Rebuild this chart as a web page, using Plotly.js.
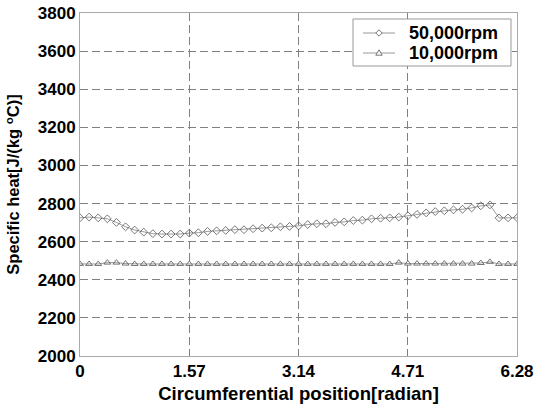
<!DOCTYPE html>
<html>
<head>
<meta charset="utf-8">
<script src="https://cdn.plot.ly/plotly-3.0.1.min.js"></script>
<style>html,body{margin:0;padding:0;background:#fff;}#chart{width:537px;height:407px;}</style>
</head>
<body>
<div id="chart"></div>
<script>
// 49 circumferential positions, step pi/24, from 0 to 2*pi
var positionIndex = [0,1,2,3,4,5,6,7,8,9,10,11,12,13,14,15,16,17,18,19,20,21,22,23,24,25,26,27,28,29,30,31,32,33,34,35,36,37,38,39,40,41,42,43,44,45,46,47,48];
var heat50k = [2725,2729,2725,2720,2701,2678,2661,2650,2642,2640,2640,2640,2645,2647,2654,2657,2659,2663,2663,2668,2671,2673,2678,2680,2683,2690,2694,2694,2701,2704,2711,2713,2720,2723,2725,2729,2736,2743,2751,2758,2762,2767,2770,2777,2788,2793,2725,2725,2725];
var heat10k = [2483,2483,2483,2490,2490,2485,2483,2483,2483,2483,2483,2483,2483,2483,2483,2483,2483,2483,2483,2483,2483,2483,2483,2483,2483,2483,2483,2483,2483,2483,2483,2483,2483,2483,2483,2490,2485,2485,2485,2485,2485,2485,2485,2485,2488,2494,2483,2483,2483];
var seriesNames = ["50,000rpm", "10,000rpm"];
var xTickVals = [0, 1.57, 3.14, 4.71, 6.28];
var xTickText = ["0", "1.57", "3.14", "4.71", "6.28"];
var yTickVals = [2000,2200,2400,2600,2800,3000,3200,3400,3600,3800];

var xPos = positionIndex.map(function(i){ return i * Math.PI / 24; });

var fam = "Liberation Sans, Arial, sans-serif";
var bold = function(sz){ return {family: fam, size: sz, color: "#000", weight: "bold"}; };

var markerColor = "#555";
var traces = [
  {x: xPos, y: heat50k, name: seriesNames[0], mode: "lines+markers", type: "scatter",
   line: {color: "#555", width: 0.6},
   marker: {symbol: "diamond-open", size: 6, color: markerColor, line: {width: 0.8}}},
  {x: xPos, y: heat10k, name: seriesNames[1], mode: "lines+markers", type: "scatter",
   line: {color: "#555", width: 0.6},
   marker: {symbol: "triangle-up-open", size: 6, color: markerColor, line: {width: 0.8}}}
];

// custom legend (paper coordinates, plot area 80..517 x 13..356 px)
var W = 437, H = 343;
function px(x){ return (x - 80) / W; }
function py(y){ return (356 - y) / H; }
var rowY = [33, 53];
var sampleX0 = 363, sampleX1 = 395, markX = 379, textX = 407;
var shapes = [{type: "rect", xref: "paper", yref: "paper", x0: px(353), x1: px(511), y0: py(66), y1: py(19),
  fillcolor: "#fff", line: {color: "#999", width: 1}, layer: "above"}];
var annotations = [];
rowY.forEach(function(ry, i){
  shapes.push({type: "line", xref: "paper", yref: "paper", x0: px(sampleX0), x1: px(sampleX1), y0: py(ry), y1: py(ry),
    line: {color: "#555", width: 0.6}, layer: "above"});
  var path;
  if (i === 0) {
    path = "M" + px(markX - 3.2) + "," + py(ry) + " L" + px(markX) + "," + py(ry - 3.2) + " L" + px(markX + 3.2) + "," + py(ry) + " L" + px(markX) + "," + py(ry + 3.2) + " Z";
  } else {
    path = "M" + px(markX - 3.2) + "," + py(ry + 2.2) + " L" + px(markX) + "," + py(ry - 3.2) + " L" + px(markX + 3.2) + "," + py(ry + 2.2) + " Z";
  }
  shapes.push({type: "path", xref: "paper", yref: "paper", path: path,
    fillcolor: "#fff", line: {color: markerColor, width: 0.8}, layer: "above"});
  annotations.push({xref: "paper", yref: "paper", x: px(textX), y: py(ry), xanchor: "left", yanchor: "middle",
    text: seriesNames[i], showarrow: false, font: bold(18)});
});

var layout = {
  width: 537, height: 407,
  margin: {l: 80, r: 20, t: 13, b: 51},
  paper_bgcolor: "#fff", plot_bgcolor: "#fff",
  showlegend: false,
  font: {family: fam, size: 17, color: "#000"},
  shapes: shapes,
  annotations: annotations,
  xaxis: {range: [0, 6.28], tickvals: xTickVals, ticktext: xTickText,
    showgrid: true, gridcolor: "#808080", gridwidth: 1, griddash: "8px,4px",
    showline: true, mirror: true, linecolor: "#aaa", linewidth: 1,
    zeroline: false, ticks: "",
    tickfont: bold(17),
    title: {text: "Circumferential position[radian]", standoff: 6, font: bold(18.5)}},
  yaxis: {range: [2000, 3800], tickvals: yTickVals,
    showgrid: true, gridcolor: "#808080", gridwidth: 1, griddash: "8px,4px",
    showline: true, mirror: true, linecolor: "#aaa", linewidth: 1,
    zeroline: false, ticks: "",
    tickfont: bold(17),
    title: {text: "Specific heat[J/(kg <sup>o</sup>C)]", standoff: 13, font: bold(16.5)}}
};

Plotly.newPlot("chart", traces, layout, {displayModeBar: false, staticPlot: true});
</script>
</body>
</html>
